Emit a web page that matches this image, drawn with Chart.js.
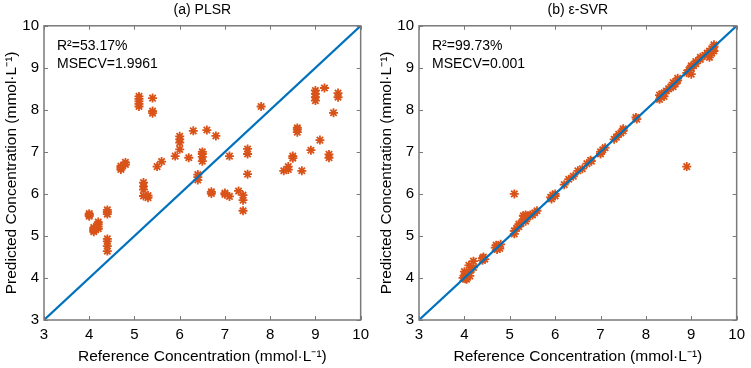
<!DOCTYPE html>
<html>
<head>
<meta charset="utf-8">
<script src="https://cdn.jsdelivr.net/npm/chart.js@4"></script>
<style>
  html, body { margin: 0; padding: 0; background: #fff; }
  .row { display: flex; width: 751px; height: 368px; }
  .panel { position: relative; height: 368px; }
</style>
</head>
<body>
<div class="row">
  <div class="panel" style="width:375px"><canvas id="plsrChart" width="375" height="368"></canvas></div>
  <div class="panel" style="width:376px"><canvas id="svrChart" width="376" height="368"></canvas></div>
</div>
<script>
// axis ticks (both axes share the same range)
const tickValues = [3, 4, 5, 6, 7, 8, 9, 10];
const idealLine = [3, 10];

// (a) PLSR: reference vs predicted
const plsrX = [
    4.0, 4.0, 4.0,
    4.1, 4.1, 4.1, 4.1,
    4.2, 4.2, 4.2, 4.2,
    4.4, 4.4, 4.4, 4.4, 4.4, 4.4, 4.4,
    4.7, 4.7, 4.7, 4.8, 4.8,
    5.1, 5.1, 5.1, 5.1, 5.1,
    5.2, 5.2, 5.2, 5.2,
    5.3, 5.3,
    5.4, 5.4, 5.4,
    5.5, 5.6, 5.9,
    6.0, 6.0, 6.0, 6.0,
    6.2, 6.3,
    6.4, 6.4, 6.4,
    6.5, 6.5, 6.5, 6.5,
    6.6, 6.7, 6.7, 6.8,
    7.0, 7.0, 7.1, 7.1, 7.3,
    7.4, 7.4, 7.4,
    7.5, 7.5, 7.5,
    7.8,
    8.3, 8.4, 8.4, 8.5, 8.5,
    8.6, 8.6, 8.6, 8.7, 8.9,
    9.0, 9.0, 9.0, 9.0,
    9.1, 9.2, 9.3, 9.3, 9.4, 9.5, 9.5
];
const plsrY = [
    5.47, 5.50, 5.53,
    5.10, 5.13, 5.16, 5.20,
    5.17, 5.22, 5.28, 5.33,
    5.52, 5.57, 5.62, 4.87, 4.93, 4.76, 4.64,
    6.58, 6.62, 6.66, 6.70, 6.75,
    8.08, 8.14, 8.20, 8.26, 8.32,
    6.10, 6.18, 6.27, 5.95,
    5.91, 5.96,
    8.28, 7.92, 7.97,
    6.65, 6.77, 6.90,
    7.22, 7.30, 7.37, 7.06,
    6.86, 7.50,
    6.33, 6.40, 6.46,
    6.88, 6.95, 7.00, 6.78,
    7.52, 6.01, 6.05, 7.38,
    5.99, 6.02, 6.90, 5.94, 6.07,
    5.97, 5.85, 5.60,
    7.07, 6.95, 6.47,
    8.08,
    6.55, 6.58, 6.65, 6.85, 6.90,
    7.47, 7.53, 7.57, 6.55, 7.04,
    8.22, 8.30, 8.38, 8.46,
    7.28, 8.52, 6.86, 6.94, 7.93, 8.30, 8.40
];

// (b) ε-SVR: reference vs predicted
const svrX = [
    3.97, 4.0, 4.02, 4.05, 4.07, 4.1, 4.0, 4.05, 4.12,
    4.1, 4.2, 4.15, 4.2,
    4.4, 4.42, 4.45, 4.4,
    4.68, 4.7, 4.75, 4.8, 4.78, 4.72,
    5.1, 5.1, 5.15, 5.2, 5.25, 5.3, 5.3, 5.35, 5.4, 5.45, 5.5, 5.55, 5.6, 5.2, 5.35,
    5.1,
    5.9, 5.95, 6.0, 5.92, 6.0,
    6.2, 6.3, 6.4, 6.5, 6.6, 6.7, 6.8, 6.78,
    7.0, 7.05, 7.1, 7.0,
    7.3, 7.35, 7.4, 7.45, 7.5, 7.5,
    7.8, 7.78,
    8.3, 8.3, 8.35, 8.4, 8.45, 8.5, 8.55, 8.6, 8.6, 8.65, 8.7, 8.7, 8.4,
    8.9,
    8.9, 8.95, 9.0, 9.0, 9.05, 9.1, 9.0, 9.1,
    9.2, 9.2,
    9.3, 9.35, 9.4, 9.4, 9.45, 9.5, 9.5, 9.5, 9.45
];
const svrY = [
    4.0, 4.05, 3.98, 4.1, 4.02, 4.12, 4.15, 3.97, 4.05,
    4.3, 4.4, 4.2, 4.25,
    4.42, 4.5, 4.45, 4.47,
    4.72, 4.78, 4.75, 4.8, 4.7, 4.68,
    5.05, 5.12, 5.18, 5.22, 5.3, 5.4, 5.48, 5.35, 5.45, 5.5, 5.5, 5.55, 5.6, 5.28, 5.5,
    6.0,
    5.92, 5.97, 6.0, 5.88, 5.95,
    6.22, 6.35, 6.42, 6.55, 6.6, 6.72, 6.78, 6.8,
    7.0, 7.05, 7.1, 6.95,
    7.3, 7.35, 7.42, 7.45, 7.5, 7.55,
    7.78, 7.82,
    8.25, 8.35, 8.38, 8.4, 8.45, 8.5, 8.55, 8.55, 8.65, 8.62, 8.7, 8.75, 8.32,
    6.65,
    8.88, 8.95, 9.0, 8.85, 9.05, 9.1, 9.05, 9.15,
    9.2, 9.25,
    9.3, 9.35, 9.4, 9.25, 9.45, 9.5, 9.4, 9.55, 9.35
];

const statsPLSR = ['R\u00B2=53.17%', 'MSECV=1.9961'];
const statsSVR = ['R\u00B2=99.73%', 'MSECV=0.001'];

const FONT = "'Liberation Sans', Arial, sans-serif";
const FRAME = '#7a7a7a';
Chart.defaults.font.family = FONT;
Chart.defaults.color = '#000';

// MATLAB-like box with inward ticks on all four sides
const boxPlugin = {
    id: 'box',
    afterDatasetsDraw(chart) {
        const { ctx, chartArea: a, scales } = chart;
        ctx.save();
        ctx.strokeStyle = FRAME;
        ctx.lineWidth = 1;
        ctx.beginPath();
        tickValues.forEach(v => {
            const px = Math.round(scales.x.getPixelForValue(v)) + 0.5;
            const py = Math.round(scales.y.getPixelForValue(v)) + 0.5;
            ctx.moveTo(px, a.bottom); ctx.lineTo(px, a.bottom - 4);
            ctx.moveTo(px, a.top); ctx.lineTo(px, a.top + 4);
            ctx.moveTo(a.left, py); ctx.lineTo(a.left + 4, py);
            ctx.moveTo(a.right, py); ctx.lineTo(a.right - 4, py);
        });
        ctx.stroke();
        ctx.lineWidth = 1.5;
        ctx.strokeRect(a.left, a.top, a.right - a.left, a.bottom - a.top);
        ctx.restore();
    }
};

const statsPlugin = {
    id: 'stats',
    afterDatasetsDraw(chart, args, opts) {
        const { ctx, chartArea: a } = chart;
        ctx.save();
        ctx.fillStyle = '#000';
        ctx.font = '14px ' + FONT;
        ctx.textBaseline = 'middle';
        opts.lines.forEach((t, i) => ctx.fillText(t, a.left + 13, a.top + 20 + i * 18));
        ctx.restore();
    }
};

function makeChart(id, title, xs, ys, stats) {
    const points = xs.map((x, i) => ({ x, y: ys[i] }));
    return new Chart(document.getElementById(id), {
        type: 'scatter',
        data: {
            datasets: [{
                type: 'line',
                data: idealLine.map(v => ({ x: v, y: v })),
                borderColor: '#0072BD',
                borderWidth: 2.2,
                pointRadius: 0,
                order: 0
            }, {
                data: points,
                pointStyle: 'star',
                pointRadius: 4.5,
                borderColor: '#D95319',
                backgroundColor: '#D95319',
                borderWidth: 1.8,
                order: 1
            }]
        },
        options: {
            responsive: false,
            animation: false,
            layout: { padding: { right: 10 } },
            plugins: {
                legend: { display: false },
                tooltip: { enabled: false },
                title: {
                    display: true,
                    fullSize: false,
                    text: title,
                    font: { size: 14, weight: 'normal' },
                    color: '#000',
                    padding: { top: 2, bottom: 7 }
                },
                stats: { lines: stats }
            },
            scales: {
                x: {
                    type: 'linear',
                    min: 3, max: 10,
                    afterBuildTicks: s => { s.ticks = tickValues.map(v => ({ value: v })); },
                    afterFit: s => { s.height = 48; },
                    grid: { display: false, drawTicks: false },
                    border: { display: false },
                    ticks: { font: { size: 15 }, color: '#000', padding: 6, maxRotation: 0 },
                    title: {
                        display: true,
                        text: 'Reference Concentration (mmol\u00B7L\u207B\u00B9)',
                        font: { size: 15.5 },
                        color: '#000',
                        padding: { top: 0, bottom: 2 }
                    }
                },
                y: {
                    type: 'linear',
                    min: 3, max: 10,
                    afterBuildTicks: s => { s.ticks = tickValues.map(v => ({ value: v })); },
                    afterFit: s => { s.width = 44; },
                    grid: { display: false, drawTicks: false },
                    border: { display: false },
                    ticks: { font: { size: 15 }, color: '#000', padding: 5 },
                    title: {
                        display: true,
                        text: 'Predicted Concentration (mmol\u00B7L\u207B\u00B9)',
                        font: { size: 15.5 },
                        color: '#000',
                        padding: { top: 2, bottom: 0 }
                    }
                }
            }
        },
        plugins: [boxPlugin, statsPlugin]
    });
}

makeChart('plsrChart', '(a) PLSR', plsrX, plsrY, statsPLSR);
makeChart('svrChart', '(b) \u03B5-SVR', svrX, svrY, statsSVR);
</script>
</body>
</html>
